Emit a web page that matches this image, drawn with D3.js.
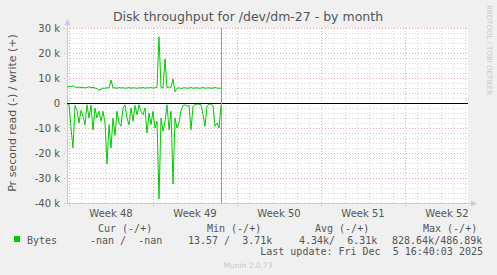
<!DOCTYPE html>
<html><head><meta charset="utf-8">
<script src="https://cdn.jsdelivr.net/npm/d3@7"></script>
<style>
html,body{margin:0;padding:0;background:#f0f0f0;}
svg{display:block;}
</style></head>
<body>
<svg id="c" width="497" height="275"></svg>
<script>
// ---- data ----
const title = "Disk throughput for /dev/dm-27 - by month";
const yLabel = "Pr second read (-) / write (+)";
const startTime = Date.UTC(2025, 10, 23, 20);   // first sample
const stepHours = 4;
const weekLabels = ["Week 48", "Week 49", "Week 50", "Week 51", "Week 52"];
const weekStarts = [Date.UTC(2025,10,24), Date.UTC(2025,11,1), Date.UTC(2025,11,8), Date.UTC(2025,11,15), Date.UTC(2025,11,22)];
const yTicks = [30000, 20000, 10000, 0, -10000, -20000, -30000, -40000];
const yTickLabels = ["30 k", "20 k", "10 k", "0", "-10 k", "-20 k", "-30 k", "-40 k"];
// read (drawn negative), bytes/s in k
const readK = [0.3,0.5,10,18,1,3,8,3,5.3,8.7,0.7,6,0.8,10.7,2,6,3.3,7.3,3.3,8,
  24.4,8.7,18,6,13,3.3,8,9.3,2,0.7,6,8.7,2,7.3,1,4.7,0.7,3.3,4.7,2,
  12,4,8.7,3.3,10,7.3,38.3,6,11.3,7.3,0.7,10.7,3.3,32.4,6,10,8,3,1,0.7,
  1.3,1,10.7,1.3,0.7,0.4,0.5,0.7,4.7,9.3,1.3,0.4,0.4,1.3,9.3,8,10,0.7];
// write (drawn positive), bytes/s in k
const writeK = [6.4,6.6,6.5,6.9,6.4,6.2,6.4,6.1,6.3,6.0,6.2,6.5,6.1,6.3,6.0,5.8,5.1,5.5,6.0,5.9,
  6.1,6.0,9.2,6.0,6.1,5.9,6.2,6.0,6.1,5.9,6.0,6.2,5.9,6.1,6.0,5.9,6.1,6.0,6.2,5.9,
  6.1,6.0,6.2,6.0,6.1,6.3,26.5,6.2,6.0,17.6,6.1,6.4,6.2,9.6,4.5,5.9,6.1,5.8,6.0,6.1,
  5.9,6.0,6.2,5.9,6.0,6.1,5.9,6.0,6.2,5.9,6.0,6.1,5.9,6.0,6.2,6.0,5.9,6.0];
const legendHeader = ["Cur (-/+)", "Min (-/+)", "Avg (-/+)", "Max (-/+)"];
const legendName = "Bytes";
const legendValues = ["-nan /  -nan", "13.57 /  3.71k", "4.34k/  6.31k", "828.64k/486.89k"];
const lastUpdate = "Last update: Fri Dec  5 16:40:03 2025";
const footer = "Munin 2.0.73";
const watermark = "RRDTOOL / TOBI OETIKER";

// ---- layout ----
const L = 67, R = 468, T = 28, B = 203;
const DAY = 86400000;
const svg = d3.select("#c");
const x = d3.scaleUtc().domain([startTime, startTime + 401/12*DAY]).range([L, R]);
const y = d3.scaleLinear().domain([-40000, 30000]).range([B, T]);
const times = readK.map((_, i) => startTime + i*stepHours*3600000);

svg.append("rect").attr("x", L).attr("y", T).attr("width", R-L).attr("height", B-T).attr("fill", "#fff");

// grid
const g = svg.append("g").attr("shape-rendering", "crispEdges");
const minorY = d3.range(-40000, 30001, 2000).filter(v => v % 10000 !== 0);
g.selectAll(".my").data(minorY).join("line")
  .attr("x1", L).attr("x2", R).attr("y1", d => Math.round(y(d))+0.5).attr("y2", d => Math.round(y(d))+0.5)
  .attr("stroke", "#d4d4d4").attr("stroke-dasharray", "1,2");
const days = d3.utcDay.range(new Date(startTime), new Date(startTime + 401/12*DAY)).filter(d => !weekStarts.includes(+d));
g.selectAll(".mx").data(days).join("line")
  .attr("x1", d => Math.round(x(d))+0.5).attr("x2", d => Math.round(x(d))+0.5).attr("y1", T).attr("y2", B)
  .attr("stroke", "#d4d4d4").attr("stroke-dasharray", "1,2");
g.selectAll(".Mx").data(weekStarts).join("line")
  .attr("x1", d => Math.round(x(d))+0.5).attr("x2", d => Math.round(x(d))+0.5).attr("y1", T).attr("y2", B+3)
  .attr("stroke", "#e8a8a8").attr("stroke-dasharray", "1,2");
g.selectAll(".My").data(yTicks).join("line")
  .attr("x1", L-3).attr("x2", R).attr("y1", d => Math.round(y(d))+0.5).attr("y2", d => Math.round(y(d))+0.5)
  .attr("stroke", "#e8a8a8").attr("stroke-dasharray", "1,2");

// axes (left and bottom, lavender)
g.append("line").attr("x1", L+0.5).attr("x2", L+0.5).attr("y1", B).attr("y2", T-6).attr("stroke", "#c8c8e8");
g.append("line").attr("x1", L).attr("x2", R+4).attr("y1", B+0.5).attr("y2", B+0.5).attr("stroke", "#c8c8e8");
svg.append("path").attr("d", `M${L-2.5},${T-3}L${L+3.5},${T-3}L${L+0.5},${T-9}Z`).attr("fill", "#c8c8e8");
svg.append("path").attr("d", `M${R+3},${B-2.5}L${R+3},${B+3.5}L${R+9},${B+0.5}Z`).attr("fill", "#c8c8e8");

// series
const lineW = d3.line().x((d, i) => x(times[i])).y(d => y(d*1000));
const lineR = d3.line().x((d, i) => x(times[i])).y(d => y(-d*1000));
svg.append("path").attr("d", lineR(readK)).attr("fill", "none").attr("stroke", "#00cc00").attr("stroke-width", 1);
svg.append("path").attr("d", lineW(writeK)).attr("fill", "none").attr("stroke", "#00cc00").attr("stroke-width", 1);

// zero line
svg.append("line").attr("x1", L).attr("x2", R).attr("y1", y(0)).attr("y2", y(0)).attr("stroke", "#000").attr("stroke-width", 1).attr("shape-rendering", "crispEdges");
// now line at last sample
const lastX = Math.round(x(times[times.length-1])) + 0.5;
svg.append("line").attr("x1", lastX).attr("x2", lastX).attr("y1", T).attr("y2", B).attr("stroke", "#999").attr("shape-rendering", "crispEdges");

// tick labels
const tf = "DejaVu Sans, sans-serif";
svg.selectAll(".yl").data(yTicks).join("text")
  .attr("x", L-7).attr("y", d => y(d)+3.5).attr("text-anchor", "end")
  .attr("font-family", tf).attr("font-size", 10).attr("fill", "#555")
  .text((d, i) => yTickLabels[i]);
svg.selectAll(".xl").data(weekStarts).join("text")
  .attr("x", d => x(d + 3.5*DAY)).attr("y", B+14).attr("text-anchor", "middle")
  .attr("font-family", tf).attr("font-size", 10).attr("fill", "#555")
  .text((d, i) => weekLabels[i]);

// title
svg.append("text").attr("x", 248).attr("y", 21).attr("text-anchor", "middle")
  .attr("font-family", tf).attr("font-size", 12.5).attr("fill", "#555").text(title);
// y label
svg.append("text").attr("transform", "translate(16,113) rotate(-90)").attr("text-anchor", "middle")
  .attr("font-family", tf).attr("font-size", 11).attr("fill", "#555").text(yLabel);
// watermark
svg.append("text").attr("transform", "translate(487,5) rotate(90)").attr("text-anchor", "start")
  .attr("font-family", tf).attr("font-size", 7).attr("fill", "#c8c8c8").text(watermark);

// legend
const mf = "DejaVu Sans Mono, monospace";
const hdrX = [98, 207, 315, 423];
svg.selectAll(".lh").data(legendHeader).join("text")
  .attr("x", (d, i) => hdrX[i]).attr("y", 232)
  .attr("font-family", mf).attr("font-size", 10).attr("fill", "#555")
  .style("white-space", "pre").text(d => d);
svg.append("rect").attr("x", 14).attr("y", 236).attr("width", 6).attr("height", 6).attr("fill", "#00cc00");
svg.append("text").attr("x", 27).attr("y", 244).attr("font-family", mf).attr("font-size", 10).attr("fill", "#555").text(legendName);
const valX = [90, 188, 299, 392];
svg.selectAll(".lv").data(legendValues).join("text")
  .attr("x", (d, i) => valX[i]).attr("y", 244)
  .attr("font-family", mf).attr("font-size", 10).attr("fill", "#555")
  .style("white-space", "pre").text(d => d);
svg.append("text").attr("x", 483).attr("y", 255).attr("text-anchor", "end")
  .attr("font-family", mf).attr("font-size", 10).attr("fill", "#555").style("white-space", "pre").text(lastUpdate);
svg.append("text").attr("x", 248).attr("y", 268).attr("text-anchor", "middle")
  .attr("font-family", tf).attr("font-size", 7.5).attr("fill", "#c8c8c8").text(footer);
</script>
</body></html>
